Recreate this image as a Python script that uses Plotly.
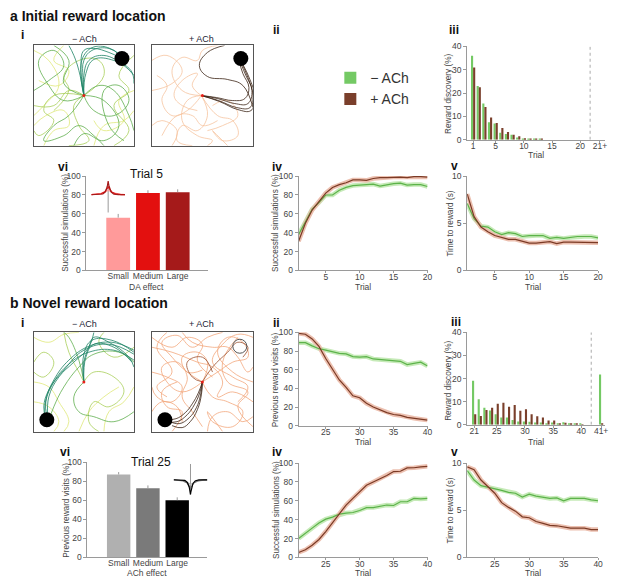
import math
import plotly.graph_objects as go

# the page shows the figure 8px in from the top-left corner of the window,
# so the figure is made 8px smaller and every position is shifted back by 8px
W, H = 617, 584
PAGE_OFFSET = 8
FW, FH = W - PAGE_OFFSET, H - PAGE_OFFSET
FONT = "Arial, Liberation Sans, sans-serif"

# colours
GREEN_BAR = '#74c964'
BROWN_BAR = '#7a3f2b'
GREEN_LINE = '#5cb34a'
GREEN_BAND = '#c6eab8'
BROWN_LINE = '#7b3a25'
BROWN_BAND = '#ecc0b0'

# ---- a iii: reward discovery, initial location ----
a_trials = list(range(1, 21)) + [23.5]
a_ticks = [1, 5, 10, 15, 20, 23.5]
a_ticktext = ['1', '5', '10', '15', '20', '21+']
a_disc_minus = [36, 23, 15.5, 7.5, 7, 3, 2.5, 2.2, 1, 0.5, 0.3, 0.3, 0.3, 0, 0, 0, 0, 0, 0, 0, 0]
a_disc_plus = [31, 22.5, 14, 9.5, 7.2, 5, 3.3, 2.2, 1.5, 0.6, 0.4, 0.5, 0.5, 0, 0, 0, 0, 0, 0, 0, 0]
a_sep = 21.75

# ---- b iii: reward discovery, novel location ----
b_trials = list(range(21, 41)) + [43.5]
b_ticks = [21, 25, 30, 35, 40, 43.5]
b_ticktext = ['21', '25', '30', '35', '40', '41+']
b_disc_minus = [19, 11, 7.4, 6.2, 4.5, 3.1, 3.1, 2, 1.4, 1.4, 1.3, 1, 1, 0.6, 1, 0.4, 1.1, 0.4, 0.3, 0.3, 21.8]
b_disc_plus = [4.5, 3.8, 6.4, 7.4, 9.1, 9.5, 7.8, 8.5, 6, 6.7, 4.5, 3.7, 3.1, 1.8, 1.8, 0.4, 0.85, 0.6, 0.4, 0.1, 0.3]
b_sep = 41.75

# ---- a iv / a v: success and time to reward, trials 1-20 ----
a_line_trials = list(range(1, 21))
a_success_minus = [38, 52, 65, 72, 80, 80, 85, 88, 90, 90.5, 91, 91.5, 89.5, 91, 92, 92.5, 90.5, 91, 91, 89]
a_success_plus = [31, 50, 64, 73, 82, 88, 91, 93, 96, 96, 95.5, 97.5, 98.5, 98.5, 99, 99, 98.5, 99.5, 99.5, 99]
a_time_minus = [7.1, 5.5, 4.7, 4.6, 4.1, 3.8, 4.0, 3.9, 3.6, 3.7, 3.7, 3.7, 3.4, 3.5, 3.4, 3.5, 3.6, 3.6, 3.6, 3.45]
a_time_plus = [8.1, 5.7, 4.6, 4.1, 3.7, 3.5, 3.3, 3.3, 3.1, 2.9, 2.9, 3.0, 3.05, 2.85, 3.0, 3.0, 3.0, 3.0, 3.0, 2.95]

# ---- b ii / b iv / b v: trials 21-40 ----
b_line_trials = list(range(21, 41))
b_prev_minus = [89, 89, 85.5, 82.5, 81, 79, 77.5, 77, 74, 73.5, 74, 71.5, 71, 70.5, 69.5, 69, 65.5, 66.5, 68, 64]
b_prev_plus = [99, 98, 93, 85, 72, 60, 49, 41, 32, 30, 24, 20, 17, 14, 12, 11, 9, 8, 7, 6]
b_success_minus = [20, 26, 31, 36.5, 40.5, 42.7, 45.8, 47, 47.6, 49.7, 52.8, 52.8, 54.5, 55.5, 55, 59, 59, 62.5, 62, 62.5]
b_success_plus = [5.2, 8, 12.8, 19, 27.4, 36.5, 45.8, 55.5, 62.5, 69.4, 76.4, 80, 83.3, 86.8, 91, 91.3, 94.8, 95, 96, 96.5]
b_time_minus = [9.2, 8.2, 7.6, 7.45, 7.3, 7.1, 6.9, 6.8, 6.4, 6.7, 6.5, 6.35, 6.25, 6.3, 6.0, 6.25, 6.25, 6.25, 6.1, 6.0]
b_time_plus = [9.6, 9.3, 8.2, 7.5, 6.8, 5.8, 5.3, 4.9, 4.3, 4.2, 3.8, 3.6, 3.4, 3.35, 3.2, 3.1, 3.1, 3.1, 2.95, 2.95]

# ---- vi: effect size bars ----
effect_labels = ['Small', 'Medium', 'Large']
a_vi_values = [56, 82, 83]
a_vi_err = [4, 3, 3]
a_vi_colors = ['#ff9a9a', '#e3100f', '#a51a1a']
b_vi_values = [87, 72.5, 60]
b_vi_err = [2.5, 3, 3]
b_vi_colors = ['#b0b0b0', '#7a7a7a', '#000000']
kernel_widths = [0.32, 0.2, 0.11]
kernel_heights = [0.35, 0.6, 1.0]

# ---- i: example trajectories (arena coordinates 0-1) ----
a_start = (0.5, 0.5)
a_reward = (0.88, 0.87)
a_minus_paths = {
    '#e0e87a': [
        [(0.0, 0.95), (0.15, 0.85), (0.25, 0.6), (0.1, 0.4), (0.0, 0.3)],
        [(0.6, 0.0), (0.7, 0.2), (0.9, 0.25), (1.0, 0.35)],
        [(0.1, 0.0), (0.2, 0.15), (0.35, 0.2), (0.3, 0.35), (0.12, 0.3), (0.0, 0.2)],
        [(0.3, 1.0), (0.2, 0.85), (0.35, 0.75), (0.25, 0.6), (0.05, 0.65)],
        [(1.0, 0.55), (0.85, 0.45), (0.9, 0.25), (0.7, 0.15), (0.6, 0.25)],
    ],
    '#a9cf5a': [
        [(0.5, 0.5), (0.7, 0.7), (0.65, 0.85), (0.45, 0.85), (0.3, 0.7), (0.35, 0.55), (0.2, 0.35)],
        [(0.5, 0.5), (0.2, 0.5), (0.1, 0.35), (0.2, 0.25), (0.05, 0.1), (0.0, 0.15)],
        [(0.5, 0.5), (0.4, 0.4), (0.45, 0.2), (0.55, 0.05), (0.35, 0.0)],
        [(1.0, 0.9), (0.85, 0.7), (0.95, 0.55), (0.8, 0.4), (0.95, 0.15), (0.8, 0.0)],
        [(0.0, 0.4), (0.2, 0.4), (0.35, 0.55), (0.5, 0.5)],
    ],
    '#5fae4e': [
        [(0.5, 0.5), (0.3, 0.45), (0.15, 0.6), (0.05, 0.85), (0.2, 0.95), (0.3, 0.8), (0.15, 0.65), (0.0, 0.55)],
        [(0.5, 0.5), (0.6, 0.35), (0.8, 0.3), (0.95, 0.45), (0.85, 0.6), (0.7, 0.55), (0.75, 0.2), (0.9, 0.05)],
        [(0.5, 0.5), (0.35, 0.3), (0.2, 0.2), (0.1, 0.05), (0.3, 0.1), (0.45, 0.2), (0.6, 0.1), (0.7, 0.0)],
        [(0.5, 0.5), (0.65, 0.6), (0.8, 0.55), (0.95, 0.3), (1.0, 0.15)],
        [(0.5, 0.5), (0.7, 0.45), (0.85, 0.2), (0.7, 0.05), (0.5, 0.12), (0.4, 0.0)],
        [(0.5, 0.5), (0.3, 0.62), (0.35, 0.85), (0.2, 1.0)],
    ],
    '#1e8466': [
        [(0.5, 0.5), (0.48, 0.65), (0.47, 0.8), (0.5, 0.95), (0.6, 0.97), (0.75, 0.93), (0.86, 0.88)],
        [(0.5, 0.5), (0.5, 0.7), (0.55, 0.85), (0.7, 0.9), (0.9, 0.8), (1.0, 0.7)],
        [(0.5, 0.5), (0.45, 0.75), (0.4, 0.9), (0.35, 1.0)],
        [(0.5, 0.5), (0.49, 0.68), (0.5, 0.85), (0.58, 0.95), (0.75, 0.97), (0.87, 0.9)],
        [(0.5, 0.5), (0.52, 0.72), (0.6, 0.86), (0.8, 0.85), (0.97, 0.75), (1.0, 0.62)],
        [(0.5, 0.5), (0.47, 0.7), (0.5, 0.9), (0.62, 0.99), (0.8, 0.95), (0.87, 0.88)],
    ],
}
a_plus_paths = {
    '#f6c4a0': [
        [(0.49, 0.5), (0.3, 0.55), (0.2, 0.75), (0.3, 0.88), (0.45, 0.85), (0.5, 0.95), (0.65, 1.0)],
        [(0.49, 0.5), (0.35, 0.35), (0.2, 0.3), (0.1, 0.45), (0.15, 0.6), (0.05, 0.7)],
        [(0.49, 0.5), (0.55, 0.3), (0.45, 0.15), (0.3, 0.2), (0.25, 0.05), (0.4, 0.0)],
        [(0.49, 0.5), (0.65, 0.3), (0.8, 0.25), (0.85, 0.1), (0.7, 0.05), (0.6, 0.15), (0.75, 0.0)],
        [(0.2, 0.0), (0.25, 0.15), (0.1, 0.25), (0.0, 0.2)],
        [(0.49, 0.5), (0.4, 0.6), (0.45, 0.72), (0.3, 0.65), (0.22, 0.5), (0.3, 0.4), (0.45, 0.35)],
        [(0.55, 0.15), (0.7, 0.2), (0.85, 0.3), (0.75, 0.45), (0.6, 0.4)],
        [(0.0, 0.85), (0.15, 0.9), (0.3, 0.75), (0.2, 0.62), (0.0, 0.55)],
        [(0.49, 0.5), (0.35, 0.45), (0.3, 0.25), (0.45, 0.1), (0.6, 0.05), (0.55, 0.0)],
        [(0.1, 0.1), (0.25, 0.3), (0.4, 0.3), (0.5, 0.2), (0.65, 0.25)],
    ],
    '#3b2314': [
        [(0.72, 1.0), (0.55, 0.93), (0.47, 0.8), (0.55, 0.69), (0.75, 0.66), (0.9, 0.6), (1.0, 0.38)],
        [(0.49, 0.5), (0.65, 0.47), (0.82, 0.42), (0.95, 0.42), (0.99, 0.55), (0.93, 0.7), (0.87, 0.84)],
        [(0.49, 0.5), (0.66, 0.45), (0.84, 0.38), (0.97, 0.38), (1.0, 0.5), (0.95, 0.68), (0.88, 0.84)],
        [(0.49, 0.5), (0.64, 0.48), (0.8, 0.45), (0.92, 0.47), (0.96, 0.58), (0.9, 0.72), (0.86, 0.85)],
        [(0.49, 0.5), (0.67, 0.44), (0.85, 0.36), (0.98, 0.35), (1.02, 0.48), (0.97, 0.66), (0.89, 0.83)],
    ],
}
b_start = (0.5, 0.5)
b_reward = (0.13, 0.12)
b_old_reward = (0.87, 0.86)
b_minus_paths = {
    '#e0e87a': [
        [(0.0, 0.95), (0.15, 0.9), (0.3, 0.98), (0.45, 1.0)],
        [(0.0, 0.5), (0.15, 0.45), (0.25, 0.3), (0.35, 0.1), (0.3, 0.0)],
        [(0.7, 0.0), (0.75, 0.2), (0.9, 0.3), (1.0, 0.45)],
        [(0.45, 0.0), (0.55, 0.2), (0.7, 0.35), (0.85, 0.45)],
        [(0.0, 0.3), (0.15, 0.25), (0.25, 0.1), (0.2, 0.0)],
    ],
    '#a9cf5a': [
        [(0.5, 0.5), (0.6, 0.6), (0.8, 0.55), (0.9, 0.4), (0.75, 0.25), (0.6, 0.3), (0.55, 0.1), (0.65, 0.0)],
        [(0.0, 0.7), (0.1, 0.8), (0.2, 0.7), (0.1, 0.55), (0.0, 0.6)],
        [(1.0, 0.85), (0.8, 0.75), (0.65, 0.9), (0.7, 1.0)],
        [(0.3, 1.0), (0.35, 0.8), (0.45, 0.6), (0.5, 0.5)],
    ],
    '#5fae4e': [
        [(0.5, 0.5), (0.4, 0.35), (0.45, 0.2), (0.6, 0.15), (0.8, 0.1), (1.0, 0.2)],
        [(0.5, 0.5), (0.45, 0.72), (0.35, 0.95), (0.3, 1.0)],
        [(1.0, 0.7), (0.85, 0.8), (0.6, 0.78), (0.45, 0.65), (0.3, 0.45), (0.2, 0.25), (0.16, 0.14)],
    ],
    '#1e8466': [
        [(0.5, 0.5), (0.5, 0.7), (0.55, 0.85), (0.6, 0.95), (0.75, 0.9), (0.95, 0.75), (1.0, 0.65)],
        [(0.5, 0.5), (0.52, 0.75), (0.6, 0.88), (0.8, 0.85), (0.98, 0.7)],
        [(1.0, 0.72), (0.8, 0.82), (0.55, 0.8), (0.35, 0.68), (0.2, 0.5), (0.12, 0.3), (0.13, 0.16)],
        [(1.0, 0.78), (0.75, 0.88), (0.5, 0.82), (0.3, 0.62), (0.15, 0.42), (0.1, 0.25), (0.12, 0.14)],
        [(0.6, 1.0), (0.55, 0.85), (0.4, 0.7), (0.25, 0.55), (0.15, 0.35), (0.14, 0.15)],
        [(0.5, 0.5), (0.5, 0.78), (0.58, 0.92), (0.78, 0.92), (1.0, 0.8)],
        [(1.0, 0.82), (0.78, 0.9), (0.55, 0.86), (0.35, 0.72), (0.2, 0.52), (0.12, 0.32), (0.11, 0.15)],
    ],
}
b_plus_paths = {
    '#f2a77c': [
        [(0.5, 0.5), (0.35, 0.6), (0.2, 0.75), (0.1, 0.9), (0.25, 0.97), (0.4, 0.85), (0.55, 0.95), (0.7, 1.0)],
        [(0.5, 0.5), (0.65, 0.6), (0.8, 0.7), (0.95, 0.75), (0.9, 0.9), (0.75, 0.95), (0.65, 0.8), (0.8, 0.6), (1.0, 0.5)],
        [(0.5, 0.5), (0.6, 0.35), (0.75, 0.3), (0.9, 0.2), (0.8, 0.05), (0.6, 0.1), (0.55, 0.2), (0.7, 0.0)],
        [(0.0, 0.6), (0.15, 0.55), (0.3, 0.45), (0.2, 0.3), (0.05, 0.35), (0.0, 0.45)],
        [(0.5, 0.5), (0.3, 0.4), (0.15, 0.5), (0.1, 0.65), (0.25, 0.7), (0.35, 0.55), (0.3, 0.35), (0.4, 0.2), (0.5, 0.05)],
        [(0.3, 1.0), (0.4, 0.9), (0.6, 0.85), (0.75, 0.85), (0.85, 0.75), (0.95, 0.6), (1.0, 0.65)],
        [(0.0, 0.85), (0.2, 0.8), (0.45, 0.7), (0.6, 0.65), (0.7, 0.5), (0.65, 0.35), (0.8, 0.4), (1.0, 0.3)],
        [(0.55, 0.0), (0.6, 0.15), (0.75, 0.2), (0.9, 0.1), (1.0, 0.15)],
        [(0.5, 0.5), (0.55, 0.7), (0.45, 0.8), (0.3, 0.75), (0.35, 0.6), (0.5, 0.62)],
        [(0.0, 0.2), (0.1, 0.3), (0.25, 0.25), (0.3, 0.1)],
        [(0.15, 1.0), (0.05, 0.85), (0.2, 0.6), (0.05, 0.45), (0.15, 0.35)],
        [(1.0, 0.95), (0.85, 0.98), (0.7, 0.88), (0.6, 0.7), (0.8, 0.55), (0.95, 0.45), (0.85, 0.3)],
        [(0.0, 0.95), (0.2, 0.85), (0.35, 0.95), (0.5, 0.88), (0.45, 0.72), (0.6, 0.55)],
        [(1.0, 0.05), (0.85, 0.25), (0.95, 0.4), (0.75, 0.5), (0.7, 0.7), (0.85, 0.95)],
        [(0.2, 0.0), (0.3, 0.2), (0.15, 0.25), (0.1, 0.4), (0.25, 0.5)],
    ],
    '#9a5030': [
        [(0.5, 0.5), (0.6, 0.65), (0.75, 0.8), (0.85, 0.9), (0.95, 0.85), (0.9, 0.75)],
        [(0.5, 0.5), (0.4, 0.55), (0.35, 0.7), (0.5, 0.75), (0.6, 0.6)],
    ],
    '#3b2314': [
        [(0.5, 0.5), (0.47, 0.38), (0.42, 0.27), (0.35, 0.17), (0.25, 0.1), (0.15, 0.1)],
        [(0.5, 0.5), (0.48, 0.36), (0.44, 0.24), (0.37, 0.14), (0.27, 0.08), (0.16, 0.11)],
        [(0.5, 0.5), (0.46, 0.39), (0.4, 0.28), (0.33, 0.19), (0.24, 0.13), (0.14, 0.12)],
        [(0.5, 0.5), (0.49, 0.37), (0.45, 0.22), (0.38, 0.1), (0.3, 0.04), (0.2, 0.06)],
    ],
}


# window pixel -> paper fraction
def px(x):
    return (x - PAGE_OFFSET) / FW


def py(y):
    return 1 - (y - PAGE_OFFSET) / FH


fig = go.Figure()
layout = dict(
    width=FW, height=FH, margin=dict(l=0, r=0, t=0, b=0),
    paper_bgcolor='white', plot_bgcolor='white',
    font=dict(family=FONT, color='#333'),
    barmode='group', bargap=0.25, bargroupgap=0,
    showlegend=True,
    legend=dict(x=px(333), y=py(58), xanchor='left', yanchor='top',
                font=dict(size=14, color='#333'), bgcolor='rgba(0,0,0,0)',
                tracegroupgap=3, itemsizing='constant'),
)
annotations = []
TICKFONT = dict(family=FONT, size=8.5, color='#444')


def set_axes(n, xa, ya):
    sfx = '' if n == 1 else str(n)
    xa['anchor'] = 'y' + sfx
    ya['anchor'] = 'x' + sfx
    layout['xaxis' + sfx] = xa
    layout['yaxis' + sfx] = ya
    return 'x' + sfx, 'y' + sfx


def box_axes(n, x0, x1, y0, y1):
    common = dict(range=[0, 1], showline=True, mirror=True, linecolor='#555',
                  linewidth=1, showgrid=False, zeroline=False,
                  showticklabels=False, ticks='', fixedrange=True)
    return set_axes(n, dict(common, domain=[px(x0), px(x1)]),
                    dict(common, domain=[py(y1), py(y0)]))


def chart_axes(n, x0, x1, y0, y1, xr, yr, xtv, ytv, xtt=None, xtype=None):
    xa = dict(domain=[px(x0), min(1, px(x1))], range=xr, tickvals=xtv, ticktext=xtt,
              showline=True, linecolor='#9a9a9a', linewidth=1, ticks='outside',
              ticklen=2, tickcolor='#9a9a9a', tickfont=TICKFONT, showgrid=False,
              zeroline=False, tickangle=0, ticklabelstandoff=-4)
    if xtype:
        xa['type'] = xtype
        xa['ticks'] = ''
        xa['ticklabelstandoff'] = -3
    ya = dict(domain=[py(y1), py(y0)], range=yr, tickvals=ytv,
              showline=True, linecolor='#9a9a9a', linewidth=1, ticks='outside',
              ticklen=3, tickcolor='#9a9a9a', tickfont=TICKFONT, showgrid=False,
              zeroline=False)
    return set_axes(n, xa, ya)


def add_arena(axes, paths, start, reward, old_reward=None):
    xa, ya = axes
    for color, group in paths.items():
        for path in group:
            fig.add_trace(go.Scatter(
                x=[p[0] for p in path], y=[p[1] for p in path], xaxis=xa, yaxis=ya,
                mode='lines', line=dict(color=color, width=0.8, shape='spline', smoothing=1.2),
                showlegend=False, hoverinfo='skip'))
    if old_reward:
        fig.add_trace(go.Scatter(x=[old_reward[0]], y=[old_reward[1]], xaxis=xa, yaxis=ya,
                                 mode='markers', showlegend=False, hoverinfo='skip',
                                 marker=dict(size=14, color='rgba(0,0,0,0)',
                                             line=dict(color='#555', width=1))))
    fig.add_trace(go.Scatter(x=[reward[0]], y=[reward[1]], xaxis=xa, yaxis=ya,
                             mode='markers', showlegend=False, hoverinfo='skip',
                             marker=dict(size=15, color='black')))
    fig.add_trace(go.Scatter(x=[start[0]], y=[start[1]], xaxis=xa, yaxis=ya,
                             mode='markers', showlegend=False, hoverinfo='skip',
                             marker=dict(size=3, color='#e8201a')))


def add_discovery(axes, trials, minus, plus, sep, ymax, legend):
    xa, ya = axes
    fig.add_trace(go.Bar(x=trials, y=minus, xaxis=xa, yaxis=ya, name='\u2212 ACh',
                         marker=dict(color=GREEN_BAR, line_width=0), showlegend=legend,
                         offsetgroup='m'))
    fig.add_trace(go.Bar(x=trials, y=plus, xaxis=xa, yaxis=ya, name='+ ACh',
                         marker=dict(color=BROWN_BAR, line_width=0), showlegend=legend,
                         offsetgroup='p'))
    fig.add_trace(go.Scatter(x=[sep, sep], y=[0, ymax], xaxis=xa, yaxis=ya, mode='lines',
                             line=dict(color='#aaa', width=1, dash='dot'),
                             showlegend=False, hoverinfo='skip'))


def add_lines(axes, trials, minus, plus):
    xa, ya = axes
    series = [(minus, GREEN_BAND, GREEN_LINE), (plus, BROWN_BAND, BROWN_LINE)]
    for vals, band, line in series:
        fig.add_trace(go.Scatter(x=trials, y=vals, xaxis=xa, yaxis=ya, mode='lines',
                                 line=dict(color=band, width=4.5), showlegend=False,
                                 hoverinfo='skip'))
    for vals, band, line in series:
        fig.add_trace(go.Scatter(x=trials, y=vals, xaxis=xa, yaxis=ya, mode='lines',
                                 line=dict(color=line, width=1.2), showlegend=False))


def add_effect_bars(axes, values, errs, colors):
    xa, ya = axes
    fig.add_trace(go.Bar(x=effect_labels, y=values, xaxis=xa, yaxis=ya, width=0.8,
                         marker=dict(color=colors, line_width=0), showlegend=False,
                         error_y=dict(type='data', array=errs, arrayminus=[0] * len(errs),
                                      symmetric=False, color='#999', thickness=1, width=0)))


def add_kernel_inset(n, x0, x1, y0, y1, yr, sign, colors, stem):
    xa, ya = set_axes(n, dict(domain=[px(x0), px(x1)], range=[-1, 1], visible=False, fixedrange=True),
                      dict(domain=[py(y1), py(y0)], range=yr, visible=False, fixedrange=True))
    fig.add_trace(go.Scatter(x=[0, 0], y=stem, xaxis=xa, yaxis=ya, mode='lines',
                             line=dict(color='#999', width=1), showlegend=False, hoverinfo='skip'))
    xs = [i / 50 - 1 for i in range(101)]
    for w, h, c in zip(kernel_widths, kernel_heights, colors):
        fig.add_trace(go.Scatter(x=xs, y=[sign * h * math.exp(-abs(v) / w) for v in xs],
                                 xaxis=xa, yaxis=ya, mode='lines',
                                 line=dict(color=c, width=1.2), showlegend=False,
                                 hoverinfo='skip'))


# ---------------- panel a ----------------
add_arena(box_axes(1, 34, 135, 41, 143), a_minus_paths, a_start, a_reward)
add_arena(box_axes(2, 153, 255, 41, 143), a_plus_paths, a_start, a_reward)
add_discovery(chart_axes(3, 471, 610, 42, 137, [-0.05, 24.4], [0, 40], a_ticks,
                         [0, 10, 20, 30, 40], a_ticktext),
              a_trials, a_disc_minus, a_disc_plus, a_sep, 40, True)
add_effect_bars(chart_axes(4, 87, 210, 174, 270, [-1.07, 3.03], [0, 100], None,
                           [0, 20, 40, 60, 80, 100], xtype='category'),
                a_vi_values, a_vi_err, a_vi_colors)
add_lines(chart_axes(5, 301, 431, 174, 270, [1, 20], [0, 100], [5, 10, 15, 20],
                     [0, 20, 40, 60, 80, 100]),
          a_line_trials, a_success_minus, a_success_plus)
add_lines(chart_axes(6, 471, 603, 174, 270, [1, 20], [0, 10], [5, 10, 15, 20], [0, 5, 10]),
          a_line_trials, a_time_minus, a_time_plus)

# ---------------- panel b ----------------
add_arena(box_axes(7, 34, 135, 333, 434), b_minus_paths, b_start, b_reward)
add_arena(box_axes(8, 153, 255, 333, 434), b_plus_paths, b_start, b_reward, b_old_reward)
add_lines(chart_axes(9, 301, 431, 333, 428, [21, 40], [0, 100], [25, 30, 35, 40],
                     [0, 20, 40, 60, 80, 100]),
          b_line_trials, b_prev_minus, b_prev_plus)
add_discovery(chart_axes(10, 471, 610, 333, 427, [19.77, 44.2], [0, 40], b_ticks,
                         [0, 10, 20, 30, 40], b_ticktext),
              b_trials, b_disc_minus, b_disc_plus, b_sep, 40, False)
add_effect_bars(chart_axes(11, 88, 209, 465, 562, [-1.07, 3.03], [0, 100], None,
                           [0, 20, 40, 60, 80, 100], xtype='category'),
                b_vi_values, b_vi_err, b_vi_colors)
add_lines(chart_axes(12, 301, 431, 466, 562, [21, 40], [0, 100], [25, 30, 35, 40],
                     [0, 20, 40, 60, 80, 100]),
          b_line_trials, b_success_minus, b_success_plus)
add_lines(chart_axes(13, 471, 603, 466, 562, [21, 40], [0, 10], [25, 30, 35, 40], [0, 5, 10]),
          b_line_trials, b_time_minus, b_time_plus)

# kernel sketches inside the vi panels
add_kernel_inset(14, 92, 126, 176, 212, [-1.36, 1.21], 1, a_vi_colors, [0.71, -1.29])
add_kernel_inset(15, 175, 209, 465, 500, [-1.13, 1.2], -1, b_vi_colors, [1.07, -0.93])

# ---------------- text ----------------


def label(text, x, y, size=11, bold=True, color='#111', xanchor='left', angle=0):
    annotations.append(dict(text='<b>%s</b>' % text if bold else text, x=px(x), y=py(y),
                            xref='paper', yref='paper', xanchor=xanchor, yanchor='middle',
                            showarrow=False, textangle=angle,
                            font=dict(family=FONT, size=size, color=color)))


label('a Initial reward location', 8, 11, size=14)
label('b Novel reward location', 8, 303, size=14)
for t, x, y in [('i', 19, 30), ('ii', 273, 25), ('iii', 451, 25), ('vi', 56, 165),
                ('iv', 272, 165), ('v', 453, 164), ('i', 19, 323), ('ii', 273, 323),
                ('iii', 453, 322), ('vi', 58, 455), ('iv', 272, 455), ('v', 453, 455)]:
    label(t, x, y, size=12)
for y in [34, 325]:
    label('\u2212 ACh', 85, y, size=9, bold=False, color='#223', xanchor='center')
    label('+ ACh', 203, y, size=9, bold=False, color='#223', xanchor='center')
label('Trial 5', 148, 172, size=12, bold=False, color='#111', xanchor='center')
label('Trial 25', 152, 465, size=12, bold=False, color='#111', xanchor='center')

# axis titles
AX = dict(size=8.5, bold=False, color='#444', xanchor='center')
for t, x, y in [('Trial', 540, 153), ('DA effect', 148, 287), ('Trial', 366, 287),
                ('Trial', 537, 287), ('Trial', 366, 445), ('Trial', 540, 445),
                ('ACh effect', 148, 578), ('Trial', 366, 578), ('Trial', 537, 578)]:
    label(t, x, y, **AX)
AXV = dict(AX, size=8.2)
for t, x, y in [('Reward discovery (%)', 452, 90), ('Successful simulations (%)', 66, 222),
                ('Successful simulations (%)', 278, 222), ('Time to reward (s)', 454, 222),
                ('Previous reward visits (%)', 278, 381), ('Reward discovery (%)', 452, 382),
                ('Previous reward visits (%)', 67, 514), ('Successful simulations (%)', 278, 514),
                ('Time to reward (s)', 454, 514)]:
    label(t, x, y, angle=-90, **AXV)

layout['annotations'] = annotations
fig.update_layout(**layout)
fig.write_html("out.html")
